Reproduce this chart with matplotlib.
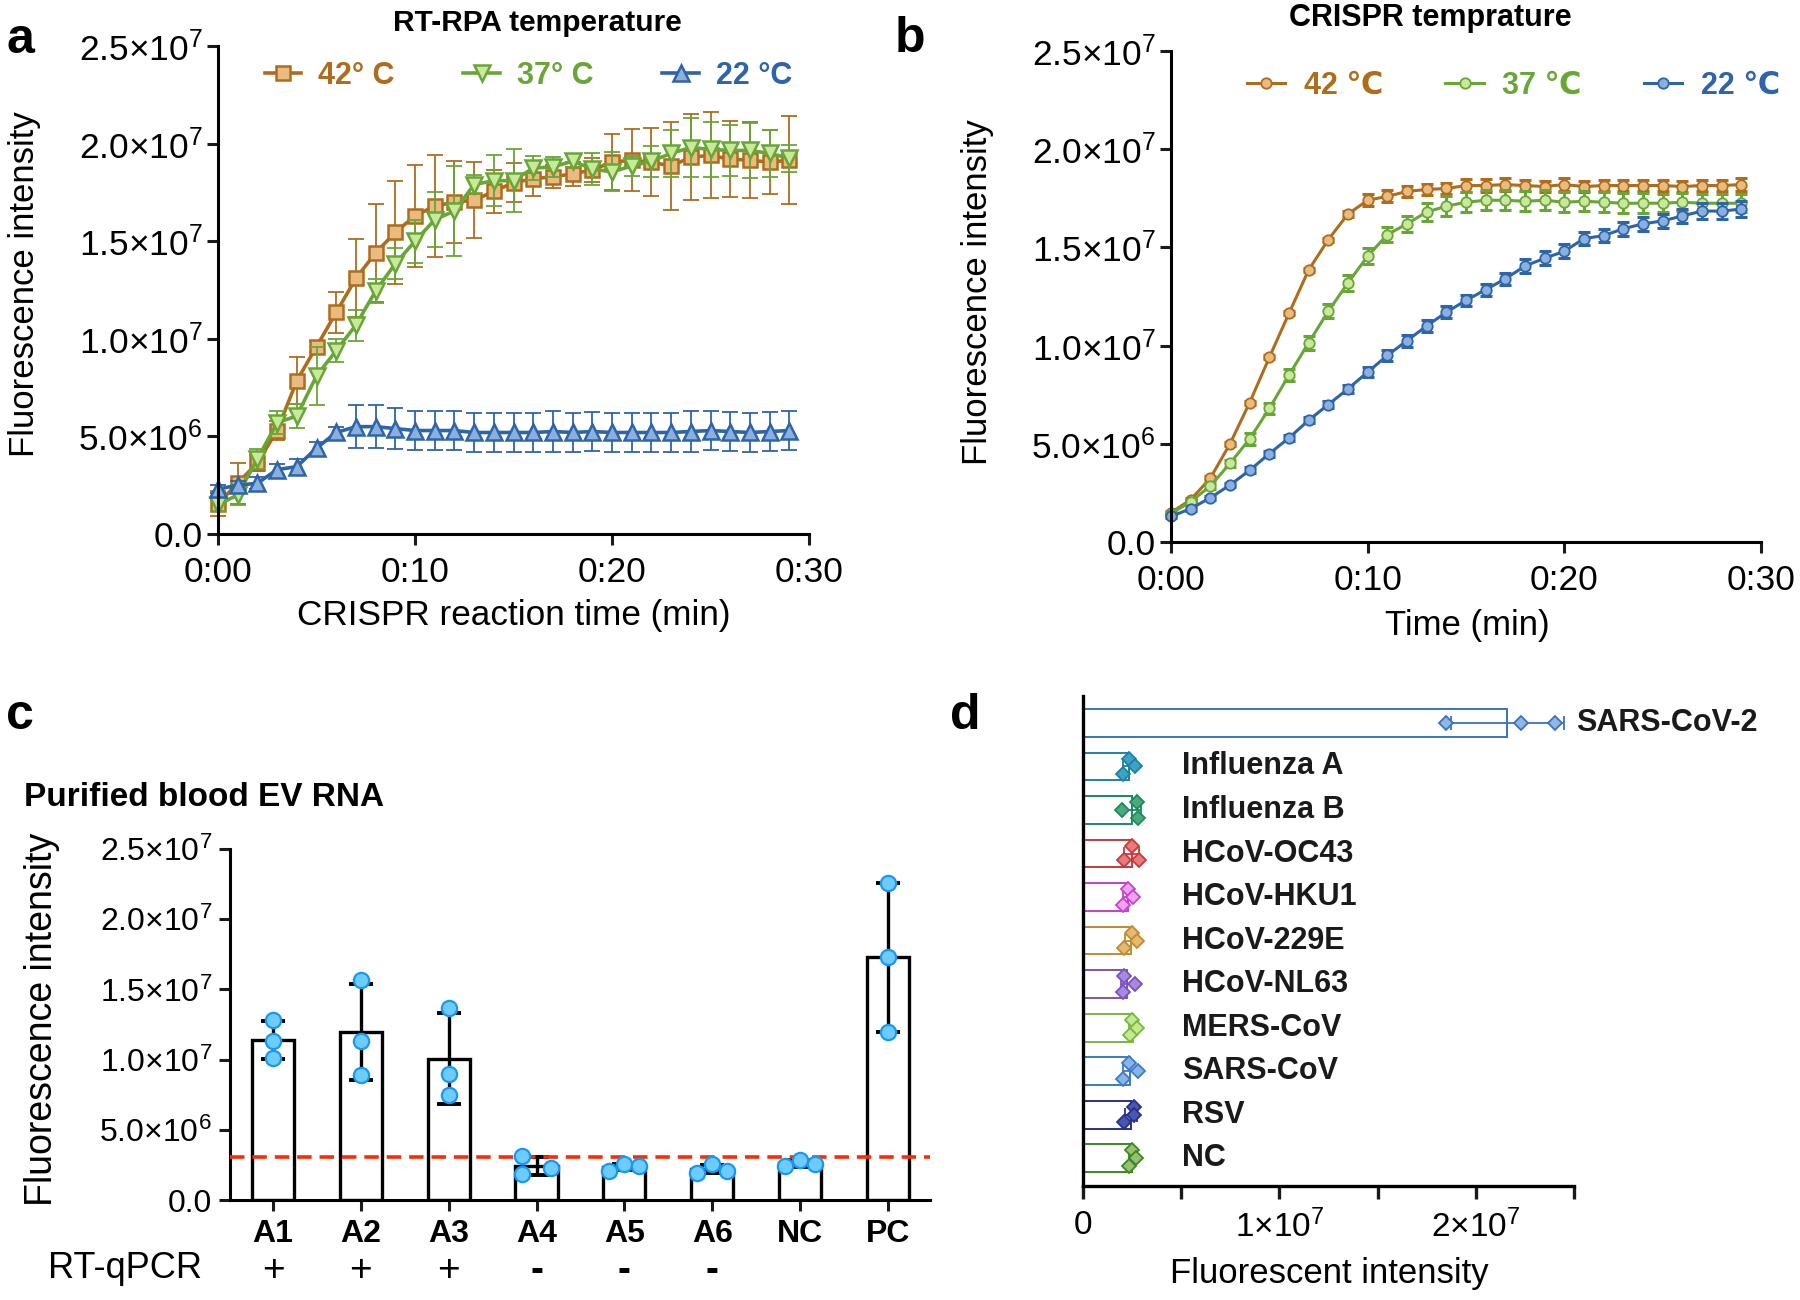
import numpy as np
import matplotlib
matplotlib.use("Agg")
import matplotlib.pyplot as plt
import matplotlib.transforms as mtransforms
from matplotlib.lines import Line2D

plt.rcParams['font.family'] = ['Liberation Sans', 'DejaVu Sans']
plt.rcParams['mathtext.fontset'] = 'custom'
plt.rcParams['mathtext.rm'] = 'Liberation Sans'
plt.rcParams['mathtext.it'] = 'Liberation Sans:italic'
plt.rcParams['mathtext.bf'] = 'Liberation Sans:bold'
plt.rcParams['axes.linewidth'] = 2.2

M = 1e6  # all values below are in millions

# ---------------- panel a : RT-RPA temperature ----------------
minutes = list(range(30))
rpa42 = [1.56, 2.6, 3.65, 5.3, 7.85, 9.6, 11.35, 13.1, 14.4, 15.45, 16.3, 16.8, 17.0, 17.1, 17.55,
         18.0, 18.2, 18.3, 18.45, 18.65, 19.05, 19.15, 19.05, 18.85, 19.3, 19.4, 19.2, 19.15, 19.05, 19.15]
rpa42_sd = [0.65, 1.05, 0.4, 0.5, 1.2, 0.3, 1.05, 2.0, 2.5, 2.65, 2.6, 2.6, 2.1, 1.95, 1.1,
            1.0, 0.9, 0.6, 0.6, 0.6, 1.45, 1.6, 1.75, 2.25, 2.2, 2.2, 1.95, 1.95, 1.65, 2.25]
rpa37 = [1.5, 2.0, 3.85, 5.7, 6.05, 8.1, 9.4, 10.7, 12.45, 13.85, 15.0, 16.1, 16.55, 17.9, 18.1,
         18.1, 18.75, 18.8, 19.1, 18.7, 18.55, 18.85, 19.1, 19.5, 19.8, 19.7, 19.65, 19.65, 19.5, 19.25]
rpa37_sd = [0.3, 0.5, 0.5, 0.6, 0.6, 1.5, 0.6, 0.8, 0.6, 0.8, 1.1, 1.4, 2.3, 0.5, 1.3,
            1.6, 0.6, 0.5, 0.3, 0.8, 1.0, 0.5, 0.8, 1.2, 1.5, 1.4, 1.3, 1.4, 1.2, 0.7]
rpa22 = [2.3, 2.5, 2.6, 3.3, 3.45, 4.4, 5.2, 5.5, 5.5, 5.4, 5.3, 5.3, 5.3, 5.2, 5.2,
         5.2, 5.2, 5.25, 5.2, 5.25, 5.2, 5.2, 5.2, 5.2, 5.25, 5.3, 5.25, 5.2, 5.25, 5.3]
rpa22_sd = [0.2, 0.2, 0.3, 0.3, 0.4, 0.3, 0.3, 1.1, 1.1, 1.05, 1.0, 1.0, 1.0, 1.0, 1.0,
            1.0, 1.0, 1.05, 1.0, 1.0, 1.0, 1.0, 1.0, 1.0, 1.05, 1.0, 1.0, 1.0, 1.0, 1.0]
rpa_labels = ['42° C', '37° C', '22 °C']

# ---------------- panel b : CRISPR temperature ----------------
cr42 = [1.5, 2.15, 3.25, 5.0, 7.1, 9.4, 11.65, 13.85, 15.4, 16.7, 17.4, 17.6, 17.85, 17.95, 18.0,
        18.15, 18.15, 18.2, 18.15, 18.1, 18.2, 18.1, 18.15, 18.15, 18.15, 18.15, 18.1, 18.15, 18.15, 18.2]
cr42_sd = [0.1, 0.1, 0.1, 0.1, 0.1, 0.1, 0.1, 0.1, 0.1, 0.15, 0.3, 0.3, 0.3, 0.3, 0.3,
           0.35, 0.35, 0.35, 0.3, 0.3, 0.35, 0.3, 0.3, 0.3, 0.3, 0.3, 0.3, 0.3, 0.3, 0.35]
cr37 = [1.45, 2.05, 2.85, 4.0, 5.25, 6.8, 8.5, 10.15, 11.75, 13.2, 14.55, 15.65, 16.2, 16.8, 17.1,
        17.3, 17.4, 17.4, 17.35, 17.4, 17.3, 17.35, 17.3, 17.25, 17.25, 17.25, 17.3, 17.25, 17.25, 17.25]
cr37_sd = [0.1, 0.1, 0.15, 0.2, 0.3, 0.3, 0.3, 0.35, 0.35, 0.4, 0.4, 0.4, 0.4, 0.45, 0.5,
           0.5, 0.5, 0.5, 0.5, 0.5, 0.5, 0.5, 0.5, 0.5, 0.5, 0.45, 0.45, 0.45, 0.45, 0.45]
cr22 = [1.3, 1.7, 2.25, 2.9, 3.65, 4.5, 5.3, 6.2, 7.0, 7.8, 8.65, 9.5, 10.25, 11.0, 11.7,
        12.3, 12.85, 13.4, 14.05, 14.45, 14.8, 15.45, 15.6, 15.95, 16.2, 16.35, 16.6, 16.85, 16.85, 16.95]
cr22_sd = [0.1, 0.1, 0.1, 0.1, 0.15, 0.15, 0.15, 0.15, 0.2, 0.2, 0.25, 0.3, 0.3, 0.3, 0.3,
           0.3, 0.3, 0.3, 0.35, 0.35, 0.35, 0.35, 0.35, 0.35, 0.35, 0.35, 0.35, 0.4, 0.4, 0.4]
cr_labels = ['42 ℃', '37 ℃', '22 ℃']

time_ticks = [0, 10, 20, 30]
time_ticklabels = ['0:00', '0:10', '0:20', '0:30']
y_ticks = [0, 5, 10, 15, 20, 25]

# ---------------- panel c : purified blood EV RNA ----------------
samples = ['A1', 'A2', 'A3', 'A4', 'A5', 'A6', 'NC', 'PC']
rtqpcr = ['+', '+', '+', '-', '-', '-', '', '']
ev_reps = [[12.8, 11.3, 10.1], [15.7, 11.3, 8.9], [13.7, 9.0, 7.5], [3.1, 1.85, 2.25],
           [2.1, 2.55, 2.4], [1.95, 2.55, 2.1], [2.4, 2.85, 2.55], [22.6, 17.3, 12.0]]
cutoff = 3.05

# ---------------- panel d : specificity ----------------
viruses = ['SARS-CoV-2', 'Influenza A', 'Influenza B', 'HCoV-OC43', 'HCoV-HKU1', 'HCoV-229E',
           'HCoV-NL63', 'MERS-CoV', 'SARS-CoV', 'RSV', 'NC']
virus_reps = [[18.46, 22.31, 24.05], [2.36, 2.65, 2.02], [2.77, 1.97, 2.78], [2.51, 2.10, 2.85],
              [2.31, 2.56, 2.02], [2.48, 2.74, 2.10], [2.10, 2.65, 2.04], [2.48, 2.74, 2.39],
              [2.36, 2.82, 2.04], [2.60, 2.62, 2.10], [2.48, 2.70, 2.36]]
d_ticks = [0, 5, 10, 15, 20, 25]

# styles
c42, f42 = '#ad6d1c', '#e9bb80'
c37, f37 = '#68a636', '#c9e89c'
c22, f22 = '#2e64a8', '#8bb0e0'
virus_edge = ['#3a72c2', '#1f80a2', '#1c8a5c', '#c8383c', '#c442c8', '#c08a30', '#7a52c0',
              '#78b840', '#3a7ac8', '#28308a', '#3a8a22']
virus_fill = ['#92b6e2', '#3ba3c8', '#4aaa7a', '#e87a7a', '#f0a2f0', '#e8b870', '#a888e0',
              '#c2e892', '#88b4e8', '#4858b0', '#98c070']


def fx(px):
    return px / 1800


def fy(py):
    return 1 - py / 1300


def sci(v, dec=1):
    if v == 0:
        return '0.0' if dec else '0'
    e = int(np.floor(np.log10(v) + 1e-9))
    m = v / 10 ** e
    return r'$\mathregular{%.*f{\times}10^{%d}}$' % (dec, m, e)


def style_axes(ax, lw=2.2):
    for s in ['top', 'right']:
        ax.spines[s].set_visible(False)
    for s in ['left', 'bottom']:
        ax.spines[s].set_linewidth(lw)
    ax.tick_params(width=lw, length=8, labelsize=25.5, color='#1a1a1a')


fig = plt.figure(figsize=(18, 13), dpi=100)

# ================= a =================
ax = fig.add_axes([fx(218), fy(534), fx(809) - fx(218), fy(46) - fy(534)])
style_axes(ax)
series_a = [(rpa42, rpa42_sd, c42, f42, 's', 10), (rpa37, rpa37_sd, c37, f37, 'v', 11.5),
            (rpa22, rpa22_sd, c22, f22, '^', 11.5)]
handles = []
for vals, sd, col, fill, mk, ms in series_a:
    v = np.array(vals) * M
    e = np.array(sd) * M
    ax.errorbar(minutes, v, yerr=e, fmt='none', ecolor=col, elinewidth=1.3, capsize=6,
                capthick=1.3, clip_on=False)
    ax.plot(minutes, v, color=col, lw=2.6, marker=mk, ms=ms, mfc=fill, mec=col, mew=1.8,
            clip_on=False)
    handles.append(Line2D([], [], color=col, lw=2.6, marker=mk, ms=ms, mfc=fill, mec=col, mew=1.8))
ax.set_xlim(0, 30)
ax.set_ylim(0, 25 * M)
ax.set_xticks(time_ticks, time_ticklabels)
ax.set_yticks([t * M for t in y_ticks], [sci(t * M) for t in y_ticks])
ax.tick_params(axis='x', pad=8)
ax.tick_params(axis='y', pad=3)
ax.legend(handles, rpa_labels, loc='center left', bbox_to_anchor=(0.053, 0.9385), ncol=3,
          frameon=False, handlelength=1.2, handletextpad=0.55, columnspacing=2.25, borderpad=0,
          labelcolor=[c42, c37, c22], prop={'size': 22, 'weight': 'bold'})

fig.text(fx(537), fy(23), 'RT-RPA temperature', ha='center', va='center', fontsize=21.5,
         fontweight='bold')
fig.text(fx(24.5), fy(284), 'Fluorescence intensity', rotation=90, ha='center', va='center',
         fontsize=25)
fig.text(fx(514), fy(616), 'CRISPR reaction time (min)', ha='center', va='center', fontsize=25.3)
fig.text(fx(6), fy(53), 'a', fontsize=36, fontweight='bold', va='baseline')

# ================= b =================
ax = fig.add_axes([fx(1171), fy(542), fx(1761) - fx(1171), fy(51) - fy(542)])
style_axes(ax)
series_b = [(cr42, cr42_sd, c42, f42), (cr37, cr37_sd, c37, f37), (cr22, cr22_sd, c22, f22)]
handles = []
for vals, sd, col, fill in series_b:
    v = np.array(vals) * M
    e = np.array(sd) * M
    ax.errorbar(minutes, v, yerr=e, fmt='none', ecolor=col, elinewidth=2.2, capsize=4,
                capthick=2.2, clip_on=False)
    ax.plot(minutes, v, color=col, lw=2.2, marker='o', ms=7.5, mfc=fill, mec=col, mew=1.3,
            clip_on=False)
    handles.append(Line2D([], [], color=col, lw=2.2, marker='o', ms=7.5, mfc=fill, mec=col, mew=1.3))
ax.set_xlim(0, 30)
ax.set_ylim(0, 25 * M)
ax.set_xticks(time_ticks, time_ticklabels)
ax.set_yticks([t * M for t in y_ticks], [sci(t * M) for t in y_ticks])
ax.tick_params(axis='x', pad=8)
ax.tick_params(axis='y', pad=3)
ax.legend(handles, cr_labels, loc='center left', bbox_to_anchor=(0.103, 0.929), ncol=3,
          frameon=False, handlelength=1.25, handletextpad=0.6, columnspacing=2.05, borderpad=0,
          labelcolor=[c42, c37, c22], prop={'size': 22, 'weight': 'bold'})

fig.text(fx(1430), fy(18), 'CRISPR temprature', ha='center', va='center', fontsize=22,
         fontweight='bold')
fig.text(fx(977), fy(292), 'Fluorescence intensity', rotation=90, ha='center', va='center',
         fontsize=25)
fig.text(fx(1467), fy(626), 'Time (min)', ha='center', va='center', fontsize=25)
fig.text(fx(895), fy(52), 'b', fontsize=36, fontweight='bold', va='baseline')

# ================= c =================
ax = fig.add_axes([fx(230), fy(1200), fx(930) - fx(230), fy(849) - fy(1200)])
style_axes(ax)
xpos = np.arange(len(samples))
means = [np.mean(r) * M for r in ev_reps]
sds = [np.std(r, ddof=1) * M for r in ev_reps]
ax.bar(xpos, means, width=0.48, color='white', edgecolor='black', linewidth=2.4, zorder=2)
ax.errorbar(xpos, means, yerr=sds, fmt='none', ecolor='black', elinewidth=2.4, capsize=8.5,
            capthick=2.8, zorder=3)
ax.axhline(cutoff * M, color='#ff2a00', lw=2.6, dashes=(4, 2.2), zorder=3.5)
for i, reps in enumerate(ev_reps):
    # spread overlapping replicates sideways, like the jittered dots of the original
    if max(reps) - min(reps) < 1.5:
        offs = [-0.17, -0.17, 0.17] if samples[i] == 'A4' else [-0.17, 0.0, 0.17]
    else:
        offs = [0, 0, 0]
    ax.plot(xpos[i] + np.array(offs), np.array(reps) * M, 'o', ms=11, mfc='#6ccbff',
            mec='#1a98f0', mew=1.6, zorder=4, clip_on=False)
ax.set_xlim(-0.49, 7.48)
ax.set_ylim(0, 25 * M)
ax.set_yticks([t * M for t in y_ticks], [sci(t * M) for t in y_ticks])
ax.set_xticks(xpos, samples)
ax.tick_params(axis='y', labelsize=23, pad=5)
ax.tick_params(axis='x', labelsize=23, pad=6)
for lab in ax.get_xticklabels():
    lab.set_fontweight('bold')
trans = mtransforms.blended_transform_factory(ax.transData, ax.transAxes)
for i, s in enumerate(rtqpcr):
    if s:
        ax.text(xpos[i], -0.202, s, transform=trans, ha='center', va='center', fontsize=28,
                fontweight='bold' if s == '-' else 'normal')
fig.text(fx(48), fy(1269), 'RT-qPCR', ha='left', va='center', fontsize=26)
fig.text(fx(24), fy(797), 'Purified blood EV RNA', ha='left', va='center', fontsize=24,
         fontweight='bold')
fig.text(fx(42), fy(1019), 'Fluorescence intensity', rotation=90, ha='center', va='center',
         fontsize=27)
fig.text(fx(6), fy(729), 'c', fontsize=36, fontweight='bold', va='baseline')

# ================= d =================
ax = fig.add_axes([fx(1083), fy(1186), fx(1574) - fx(1083), fy(696) - fy(1186)])
style_axes(ax, lw=2.4)
ypos = np.arange(len(viruses))
vmeans = [np.mean(r) * M for r in virus_reps]
vsds = [np.std(r, ddof=1) * M for r in virus_reps]
for i, reps in enumerate(virus_reps):
    col, fill = virus_edge[i], virus_fill[i]
    ax.barh(ypos[i], vmeans[i], height=0.64, color='white', edgecolor=col, linewidth=1.4, zorder=2)
    ax.errorbar(vmeans[i], ypos[i], xerr=vsds[i], fmt='none', ecolor=col, elinewidth=1.3,
                capsize=4.7, capthick=1.3, zorder=3)
    offs = [0, 0, 0] if i == 0 else ([-0.18, 0.16, 0.16] if viruses[i] == 'HCoV-OC43'
                                     else [-0.18, 0.0, 0.18])
    ax.plot(np.array(reps) * M, ypos[i] + np.array(offs), 'D', ms=7, mfc=fill, mec=col, mew=1.3,
            zorder=4)
ax.set_ylim(10.64, -0.62)
ax.set_xlim(0, 25 * M)
ax.set_yticks([])
ax.set_xticks([t * M for t in d_ticks],
              [sci(t * M, 0) if t % 10 == 0 else '' for t in d_ticks])
ax.tick_params(axis='x', labelsize=24, pad=8, length=9)
ytr = mtransforms.blended_transform_factory(ax.transAxes, ax.transData)
for i, name in enumerate(viruses):
    xl = 1.004 if i == 0 else 0.2016
    ax.text(xl, ypos[i], name, transform=ytr, ha='left', va='center', fontsize=22,
            fontweight='bold', color='#1a1a1a', clip_on=False)
fig.text(fx(1329), fy(1273), 'Fluorescent intensity', ha='center', va='center', fontsize=25)
fig.text(fx(950), fy(729), 'd', fontsize=36, fontweight='bold', va='baseline')

fig.savefig('out.png', dpi=100)
